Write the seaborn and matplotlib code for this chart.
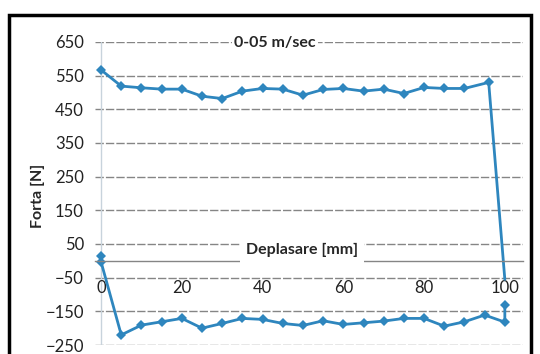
import matplotlib
matplotlib.use("Agg")
import matplotlib.pyplot as plt
import matplotlib.patches as patches
import seaborn as sns
import pandas as pd

# -----------------------------
# Data (force vs displacement, 0-05 m/sec)
# -----------------------------
x_up = [0, 5, 10, 15, 20, 25, 30, 35, 40, 45, 50, 55, 60, 65, 70, 75, 80, 85, 90, 96, 100]
f_up = [567, 519, 514, 510, 510, 489, 482, 504, 512, 510, 492, 509, 512, 504, 510, 497,
        515, 512, 512, 530, -55]

x_down = [100, 100, 95, 90, 85, 80, 75, 70, 65, 60, 55, 50, 45, 40, 35, 30, 25, 20, 15,
          10, 5, 0, 0]
f_down = [-130, -182, -161, -181, -194, -171, -171, -179, -184, -189, -178, -192, -186,
          -174, -171, -186, -200, -171, -181, -191, -220, -3, 15]

y_ticks = [650, 550, 450, 350, 250, 150, 50, -50, -150, -250]
x_ticks = [0, 20, 40, 60, 80, 100]

df_up = pd.DataFrame({"deplasare": x_up, "forta": f_up})
df_down = pd.DataFrame({"deplasare": x_down, "forta": f_down})

sns.set_style("white")
plt.rcParams["font.family"] = ["Lato", "DejaVu Sans"]

W, H = 540, 354
fig = plt.figure(figsize=(W / 100, H / 100), dpi=100)
ax = fig.add_axes([95 / W, 1 - 345 / H, (523 - 95) / W, (345 - 42) / H])

line_col = "#2e86be"
grid_col = "#858585"

sns.lineplot(data=df_up, x="deplasare", y="forta", ax=ax, sort=False, estimator=None,
             color=line_col, lw=2, marker="D", markersize=5.5, markeredgewidth=0,
             markevery=list(range(len(x_up) - 1)))
sns.lineplot(data=df_down, x="deplasare", y="forta", ax=ax, sort=False, estimator=None,
             color=line_col, lw=2, marker="D", markersize=5.5, markeredgewidth=0)

ax.set_xlim(-1.5, 104.5)
ax.set_ylim(-250, 650)
ax.set_yticks(y_ticks)
ax.set_xticks(x_ticks)
ax.set_xlabel("")
ax.set_ylabel("")

for v in y_ticks:
    ax.axhline(v, color=grid_col, lw=1, ls=(0, (6, 1.5)), zorder=0)
ax.axvline(0, color="#c8d3dc", lw=1, zorder=0)

for s in ["top", "right", "left"]:
    ax.spines[s].set_visible(False)
ax.spines["bottom"].set_position(("data", 0))
ax.spines["bottom"].set_color(grid_col)
ax.spines["bottom"].set_linewidth(1)

ax.tick_params(axis="y", length=0, pad=8, labelsize=12, colors="#222222")
ax.tick_params(axis="x", direction="out", length=3, width=0.8, color="#999999",
               pad=11, labelsize=12, labelcolor="#222222")

fig.text(275 / W, 1 - 43 / H, "0-05 m/sec", ha="center", va="center",
         fontsize=11.5, fontweight="bold",
         bbox=dict(boxstyle="square,pad=0.15", fc="white", ec="none"))
fig.text(302 / W, 1 - 250 / H, "Deplasare [mm]", ha="center", va="center",
         fontsize=11.5, fontweight="bold", zorder=5,
         bbox=dict(boxstyle="square,pad=0.4", fc="white", ec="none"))
fig.text(38 / W, 1 - 196 / H, "Forta [N]", ha="center", va="center", rotation=90,
         fontsize=11.5, fontweight="bold")

# chart frame
fig.patches.append(patches.Rectangle((9 / W, -0.1), (531 - 9) / W, 1 - 15 / H + 0.1,
                                     transform=fig.transFigure, fill=False,
                                     lw=2.5, ec="black"))

plt.savefig("out.png", dpi=100)
